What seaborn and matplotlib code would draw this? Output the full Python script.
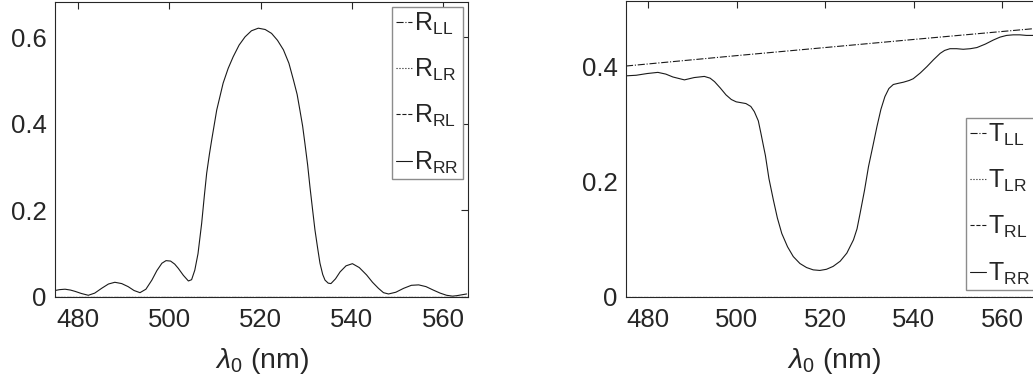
import matplotlib
matplotlib.use('Agg')
import matplotlib.pyplot as plt
import seaborn as sns

# ---------------- data ----------------
wl_R = [475.0, 476.0, 477.2, 478.4, 479.4, 480.8, 482.3, 483.7, 485.2, 486.7,
        488.1, 489.6, 491.0, 492.3, 493.6, 494.9, 496.2, 497.3, 498.4, 499.3,
        500.3, 501.2, 502.0, 503.1, 504.2, 504.9, 505.6, 506.3, 507.1, 507.7,
        508.2, 508.8, 509.3, 510.4, 511.8, 512.9, 514.0, 515.3, 516.6, 518.0,
        519.5, 521.0, 522.4, 523.7, 525.0, 526.2, 527.2, 528.0, 528.6, 529.2,
        529.7, 530.3, 530.8, 531.4, 531.9, 532.5, 533.0, 533.6, 534.1, 534.8,
        535.4, 536.4, 537.4, 538.7, 540.1, 541.6, 543.2, 544.5, 545.8, 546.9,
        548.0, 549.6, 551.3, 553.0, 554.6, 556.2, 557.8, 559.3, 560.7, 562.0,
        562.9, 564.0, 565.1]
R_RR = [0.015, 0.017, 0.018, 0.016, 0.013, 0.008, 0.004, 0.009, 0.020, 0.030,
        0.034, 0.031, 0.024, 0.015, 0.010, 0.018, 0.039, 0.061, 0.078, 0.084,
        0.083, 0.076, 0.066, 0.050, 0.037, 0.040, 0.062, 0.100, 0.170, 0.235,
        0.286, 0.330, 0.363, 0.432, 0.494, 0.528, 0.555, 0.582, 0.601, 0.615,
        0.621, 0.618, 0.609, 0.593, 0.571, 0.540, 0.501, 0.468, 0.432, 0.395,
        0.355, 0.305, 0.255, 0.200, 0.155, 0.112, 0.078, 0.052, 0.039, 0.032,
        0.031, 0.042, 0.058, 0.072, 0.077, 0.068, 0.051, 0.034, 0.020, 0.010,
        0.007, 0.011, 0.020, 0.027, 0.028, 0.024, 0.016, 0.009, 0.004, 0.002,
        0.003, 0.005, 0.007]
wl_flat = [475.0, 570.0]
R_LL = [0.0, 0.0]
R_LR = [0.0, 0.0]
R_RL = [0.0, 0.0]

wl_T = [475.0, 477.3, 479.8, 482.2, 484.0, 485.6, 488.2, 490.4, 492.7, 494.0,
        495.0, 496.3, 497.6, 498.8, 499.9, 502.1, 503.2, 504.0, 504.9, 505.5,
        506.1, 506.5, 507.3, 508.3, 509.2, 510.2, 511.5, 512.8, 514.3, 515.8,
        517.3, 518.8, 520.3, 521.8, 523.4, 524.9, 526.4, 527.2, 527.9, 528.9,
        529.8, 530.8, 531.7, 532.6, 533.5, 534.4, 535.4, 536.5, 537.7, 539.0,
        539.9, 541.5, 543.0, 544.5, 546.0, 547.0, 548.2, 549.7, 551.2, 552.8,
        554.3, 556.2, 558.0, 559.5, 561.0, 562.5, 564.0, 565.5, 567.0, 569.0]
T_RR = [0.383, 0.384, 0.387, 0.389, 0.386, 0.381, 0.376, 0.380, 0.382, 0.379,
        0.373, 0.362, 0.350, 0.342, 0.338, 0.335, 0.330, 0.321, 0.305, 0.283,
        0.260, 0.245, 0.205, 0.168, 0.137, 0.110, 0.087, 0.070, 0.058, 0.051,
        0.047, 0.046, 0.048, 0.053, 0.062, 0.076, 0.099, 0.118, 0.145, 0.185,
        0.226, 0.262, 0.295, 0.325, 0.347, 0.361, 0.368, 0.370, 0.372, 0.375,
        0.378, 0.388, 0.399, 0.411, 0.422, 0.427, 0.430, 0.430, 0.429, 0.430,
        0.432, 0.438, 0.445, 0.450, 0.453, 0.454, 0.454, 0.453, 0.453, 0.453]
wl_TLL = [475.0, 500.0, 520.0, 540.0, 569.0]
T_LL = [0.400, 0.418, 0.432, 0.446, 0.466]
T_LR = [0.0, 0.0]
T_RL = [0.0, 0.0]

x_ticks = [480, 500, 520, 540, 560]
yticks_R = [0, 0.2, 0.4, 0.6]
yticks_T = [0, 0.2, 0.4]
ytick_labels_R = ['0', '0.2', '0.4', '0.6']
ytick_labels_T = ['0', '0.2', '0.4']

# ---------------- style ----------------
sns.set_theme(style='white')
plt.rcParams['font.family'] = ['Liberation Sans', 'DejaVu Sans']
plt.rcParams['mathtext.fontset'] = 'custom'
plt.rcParams['mathtext.rm'] = 'Liberation Sans'
plt.rcParams['mathtext.it'] = 'Liberation Sans:italic'
plt.rcParams['mathtext.sf'] = 'Liberation Sans'

W, H = 1033, 390
fig = plt.figure(figsize=(W / 100, H / 100), dpi=100)

axc = '#262626'
fs_tick = 18.5
fs_label = 20.5
fs_leg = 18
lw = 0.8

ax1 = fig.add_axes([55 / W, (H - 297) / H, 413 / W, 295 / H])
ax2 = fig.add_axes([626 / W, (H - 297) / H, 416 / W, 296 / H])

sns.lineplot(x=wl_flat, y=R_LL, ax=ax1, color='k', lw=lw, linestyle='-.', label=r'$\mathregular{R_{LL}}$')
sns.lineplot(x=wl_flat, y=R_LR, ax=ax1, color='k', lw=lw, linestyle=':', label=r'$\mathregular{R_{LR}}$')
sns.lineplot(x=wl_flat, y=R_RL, ax=ax1, color='k', lw=lw, linestyle='--', label=r'$\mathregular{R_{RL}}$')
sns.lineplot(x=wl_R, y=R_RR, ax=ax1, color='k', lw=lw, linestyle='-', label=r'$\mathregular{R_{RR}}$')

sns.lineplot(x=wl_TLL, y=T_LL, ax=ax2, color='k', lw=lw, linestyle='-.', label=r'$\mathregular{T_{LL}}$')
sns.lineplot(x=wl_flat, y=T_LR, ax=ax2, color='k', lw=lw, linestyle=':', label=r'$\mathregular{T_{LR}}$')
sns.lineplot(x=wl_flat, y=T_RL, ax=ax2, color='k', lw=lw, linestyle='--', label=r'$\mathregular{T_{RL}}$')
sns.lineplot(x=wl_T, y=T_RR, ax=ax2, color='k', lw=lw, linestyle='-', label=r'$\mathregular{T_{RR}}$')

ax1.set_xlim(475, 565.4)
ax1.set_ylim(0, 0.6815)
ax2.set_xlim(475, 569)
ax2.set_ylim(0, 0.5126)
ax1.set_yticks(yticks_R)
ax1.set_yticklabels(ytick_labels_R)
ax2.set_yticks(yticks_T)
ax2.set_yticklabels(ytick_labels_T)

for ax in (ax1, ax2):
    ax.set_xticks(x_ticks)
    ax.set_xticklabels([str(t) for t in x_ticks])
    ax.tick_params(direction='in', length=5, width=0.8, colors=axc,
                   labelsize=fs_tick, top=True, right=True, pad=6,
                   labelcolor=axc)
    ax.tick_params(axis='x', pad=8)
    for s in ax.spines.values():
        s.set_color(axc)
        s.set_linewidth(0.8)
    ax.set_xlabel(r'$\lambda_0$ (nm)', fontsize=fs_label, color=axc, labelpad=10)
    ax.set_ylabel('')
    ax.grid(False)

legkw = dict(loc='upper left', bbox_transform=fig.transFigure, frameon=True,
             fancybox=False, handlelength=0.65, handletextpad=0.1,
             borderpad=0.15, labelspacing=0.8, fontsize=fs_leg, borderaxespad=0,
             framealpha=1)
leg1 = ax1.legend(bbox_to_anchor=(392 / W, 1 - 7 / H), **legkw)
leg2 = ax2.legend(bbox_to_anchor=(966 / W, 1 - 118 / H), **legkw)
for leg in (leg1, leg2):
    leg.get_frame().set_edgecolor('#8c8c8c')
    leg.get_frame().set_linewidth(1.0)

fig.savefig('out.png', dpi=100)
